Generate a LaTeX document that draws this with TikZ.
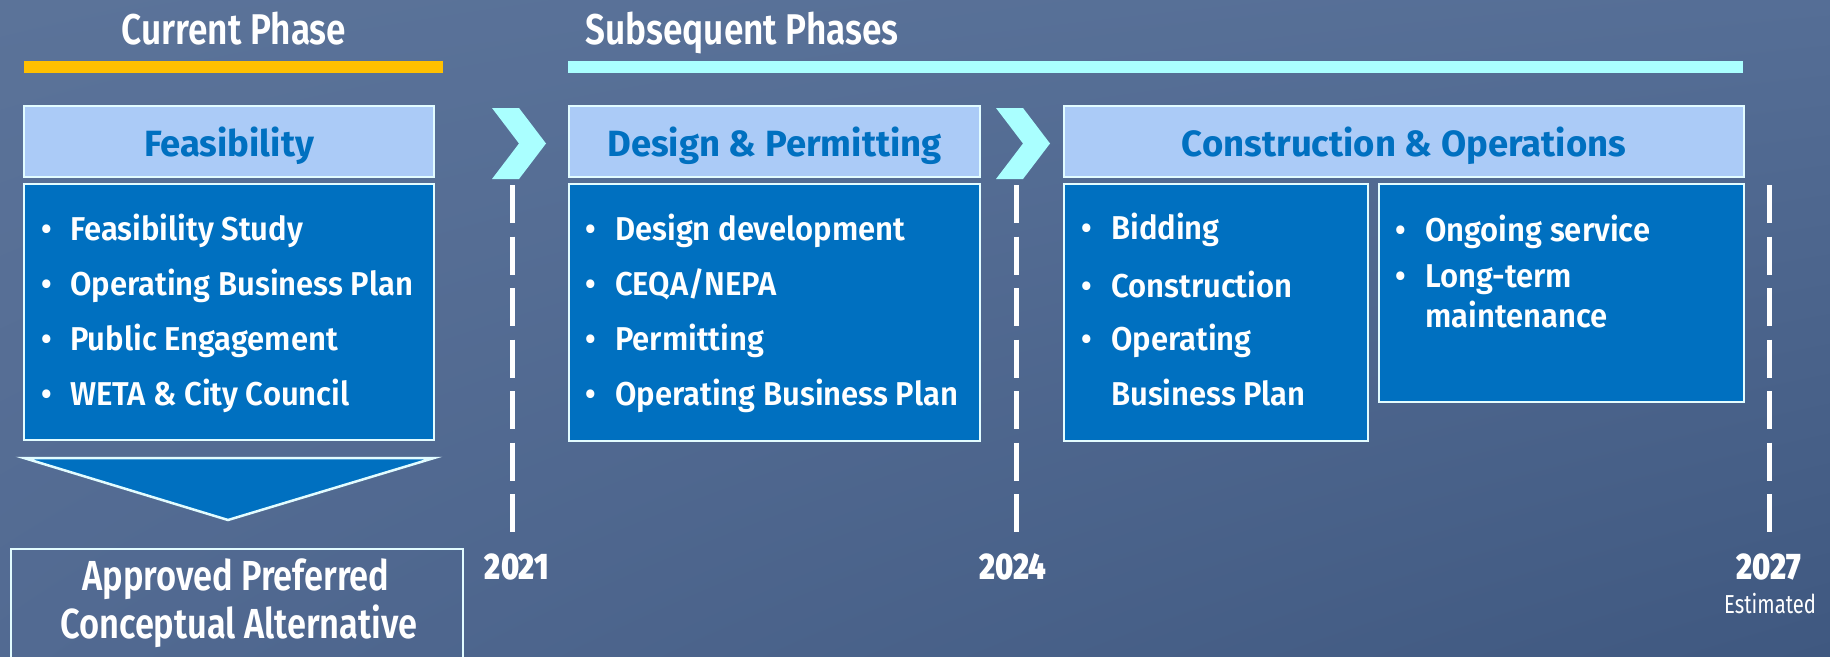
\documentclass[tikz,border=0pt]{standalone}
\usepackage{fontspec}
\setmainfont{Fira Sans}
\newfontfamily\phasefont[FakeStretch=0.82,UprightFont={* SemiBold}]{Fira Sans}
\newfontfamily\itemfont[FakeStretch=0.94,UprightFont={* SemiBold}]{Fira Sans}
\newfontfamily\titlefont{Fira Sans}
\newfontfamily\notefont[FakeStretch=0.78]{Fira Sans}
\usetikzlibrary{positioning,shadings}

\definecolor{bgA}{HTML}{5B7399}
\definecolor{bgB}{HTML}{556E96}
\definecolor{bgC}{HTML}{526A92}
\definecolor{bgD}{HTML}{3F5880}
\definecolor{headfill}{HTML}{ABCBF7}
\definecolor{bodyfill}{HTML}{0070C0}
\definecolor{edge}{HTML}{E2FCFF}
\definecolor{gold}{HTML}{FFC000}
\definecolor{aqua}{HTML}{AAFFFF}

\tikzset{
  phase/.style={text=white, font=\phasefont\fontsize{43}{50}\selectfont, anchor=base, inner sep=0pt},
  titlebox/.style={draw=edge, line width=2.5pt, fill=headfill, text=bodyfill,
    font=\titlefont\bfseries\fontsize{36.5}{42}\selectfont,
    minimum height=71pt, text height=29pt, text depth=0pt, inner sep=0pt},
  bodybox/.style={draw=edge, line width=2.5pt, fill=bodyfill, inner sep=0pt},
  item/.style={text=white, font=\itemfont\fontsize{33}{40}\selectfont, anchor=base west, inner sep=0pt},
  dot/.style={text=white, font=\itemfont\fontsize{33}{40}\selectfont, anchor=base, inner sep=0pt},
  year/.style={text=white, font=\phasefont\bfseries\fontsize{37}{42}\selectfont, anchor=base, inner sep=0pt},
  marker/.style={draw=white, line width=5pt, dash pattern=on 38pt off 13.5pt},
}

\begin{document}
\begin{tikzpicture}[x=1pt, y=-1pt]
  \useasboundingbox (0,0) rectangle (1830,656);
  \clip (0,0) rectangle (1830,656);
  \shade[upper left=bgA, upper right=bgB, lower left=bgC, lower right=bgD] (0,0) rectangle (1830,656);

  % phase headings
  \node[phase] (current) at (234,44) {Current Phase};
  \node[phase, anchor=base west] (later) at (585,44) {Subsequent Phases};
  \fill[gold] (24,61) rectangle (443,73);
  \fill[aqua] (568,61) rectangle (1743,73);

  % stage titles
  \node[titlebox, minimum width=410pt] (feas) at (229,141.5) {Feasibility};
  \node[titlebox, minimum width=411pt] (design) at (774.5,141.5) {Design \& Permitting};
  \node[titlebox, minimum width=680pt] (build) at (1404,141.5) {Construction \& Operations};

  \foreach \x in {492,996}
    \fill[aqua] (\x,108) -- ++(27,0) -- ++(27,35.5) -- ++(-27,35.5) -- ++(-27,0) -- ++(27,-35.5) -- cycle;

  % stage contents
  \node[bodybox, minimum width=410pt, minimum height=256pt] (feasbody) at (229,312) {};
  \node[bodybox, minimum width=411pt, minimum height=257pt] (designbody) at (774.5,312.5) {};
  \node[bodybox, minimum width=304pt, minimum height=257pt] (buildbody) at (1216,312.5) {};
  \node[bodybox, minimum width=365pt, minimum height=218pt] (servebody) at (1561.5,293) {};

  \foreach \txt [count=\i] in {Feasibility Study, Operating Business Plan, Public Engagement, WETA \& City Council} {
    \node[dot] (fd\i) at (47,{240+55.3*(\i-1)}) {•};
    \node[item] (f\i) at (70,{240+55.3*(\i-1)}) {\txt};
  }
  \foreach \txt [count=\i] in {Design development, CEQA/NEPA, Permitting, Operating Business Plan} {
    \node[dot] (dd\i) at (591,{240+55.3*(\i-1)}) {•};
    \node[item] (d\i) at (615,{240+55.3*(\i-1)}) {\txt};
  }
  \foreach \y/\txt [count=\i] in {239/Bidding, 297/Construction, 350/Operating} {
    \node[dot] (bd\i) at (1087,\y) {•};
    \node[item] (b\i) at (1111,\y) {\txt};
  }
  \node[item] (b4) at (1111,405) {Business Plan};
  \node[dot] (sd1) at (1401,241) {•};
  \node[item] (s1) at (1425,241) {Ongoing service};
  \node[dot] (sd2) at (1401,287) {•};
  \node[item] (s2) at (1425,287) {Long-term};
  \node[item] (s3) at (1425,327) {maintenance};

  % outcome of current phase
  \filldraw[fill=bodyfill, draw=edge, line width=2.5pt] (24,458) -- (434,458) -- (228,520) -- cycle;
  \draw[edge, line width=2pt] (11,700) rectangle (463,549);
  \node[phase, font=\phasefont\fontsize{42}{48}\selectfont] (appr1) at (236,590) {Approved Preferred};
  \node[phase, font=\phasefont\fontsize{42}{48}\selectfont] (appr2) at (239,638) {Conceptual Alternative};

  % timeline
  \foreach \x in {512,1016,1769}
    \draw[marker] (\x,185) -- (\x,532);
  \node[year] (y2021) at (517,579) {2021};
  \node[year] (y2024) at (1013,579) {2024};
  \node[year] (y2027) at (1769,579) {2027};
  \node[text=white, font=\notefont\fontsize{26}{30}\selectfont, anchor=base, inner sep=0pt] (est) at (1770,613) {Estimated};
\end{tikzpicture}
\end{document}
